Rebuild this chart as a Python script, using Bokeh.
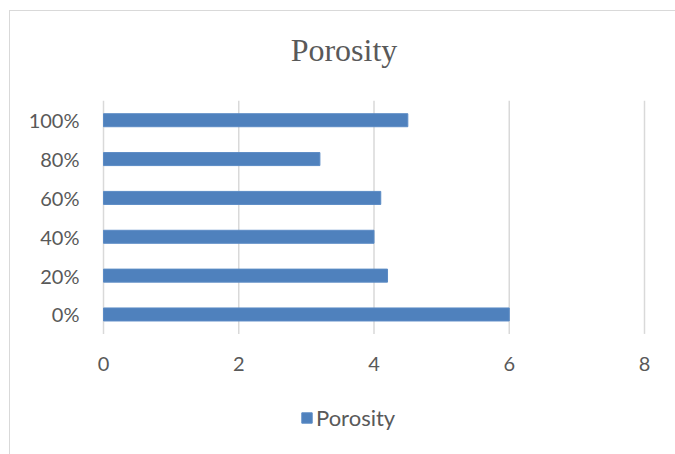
from bokeh.plotting import figure
from bokeh.models import Range1d, Legend, LegendItem, ColumnDataSource, FixedTicker
from bokeh.core.properties import value
from bokeh.embed import file_html
from bokeh.resources import INLINE

categories = ["0%", "20%", "40%", "60%", "80%", "100%"]
porosity = [6.0, 4.2, 4.0, 4.1, 3.2, 4.5]
x_ticks = [0, 2, 4, 6, 8]
series_name = "Porosity"
title_text = "Porosity"

# layout (canvas pixels)
W, H = 666, 444
LEFT, RIGHT = 80, 0
AXIS_X0, AXIS_X1 = 93, 634          # where the value axis 0 and 8 sit
BAND_TOP, BAND_BOTTOM = 89.3, 322.4

n = len(categories)
idx = list(range(n))
band = (BAND_BOTTOM - BAND_TOP) / n
y_lo = -0.5 - (H - BAND_BOTTOM) / band
y_hi = n - 0.5 + BAND_TOP / band
ppu = (AXIS_X1 - AXIS_X0) / (x_ticks[-1] - x_ticks[0])
x_lo = x_ticks[0] - (AXIS_X0 - LEFT) / ppu
x_hi = x_ticks[-1] + (W - RIGHT - AXIS_X1) / ppu

src = ColumnDataSource(dict(y=idx, val=porosity))

p = figure(width=W, height=H, output_backend="svg", toolbar_location=None,
           title_location=None, x_axis_location=None,
           x_range=Range1d(x_lo, x_hi), y_range=Range1d(y_lo, y_hi),
           min_border_left=LEFT, min_border_right=RIGHT, min_border_top=0, min_border_bottom=0,
           margin=(10, 0, 0, 9),
           styles={"border-left": "1px solid #D9D9D9", "border-top": "1px solid #D9D9D9"})
p.outline_line_color = None
p.background_fill_color = "white"
p.border_fill_color = "white"
p.xgrid.grid_line_color = None
p.ygrid.grid_line_color = None

# vertical gridlines limited to the category band
p.segment(x0=x_ticks, x1=x_ticks, y0=[-0.5] * len(x_ticks), y1=[n - 0.5] * len(x_ticks),
          line_color="#D9D9D9", line_width=1.5)

r = p.hbar(y="y", right="val", left=0, height=0.335, source=src,
           fill_color="#4F81BD", line_color="#5B8BC5", line_width=1)

# x tick labels
p.text(x=x_ticks, y=[-0.5] * len(x_ticks), text=[str(t) for t in x_ticks],
       text_font=value("Lato"), text_font_size="20px", text_color="#595959",
       text_align="center", text_baseline="alphabetic", y_offset=30)

# title
p.text(x=[(x_ticks[0] + x_ticks[-1]) / 2], y=[n - 0.5], text=[title_text],
       text_font=value("Liberation Serif"), text_font_size="32px", text_color="#595959",
       text_align="center", text_baseline="alphabetic", x_offset=-30, y_offset=-51)

# y axis (category labels)
ya = p.yaxis[0]
ya.ticker = FixedTicker(ticks=idx)
ya.major_label_overrides = {i: c for i, c in zip(idx, categories)}
ya.axis_line_color = None
ya.major_tick_line_color = None
ya.minor_tick_line_color = None
ya.major_label_text_font = "Lato"
ya.major_label_text_font_size = "20px"
ya.major_label_text_color = "#595959"
ya.major_label_standoff = 5

legend = Legend(items=[LegendItem(label=series_name, renderers=[r])],
                location=(210, 24), orientation="horizontal",
                glyph_width=13, glyph_height=13, label_standoff=3,
                label_text_font="Lato", label_text_font_size="22px", label_text_color="#595959",
                padding=0, margin=0, border_line_color=None, background_fill_alpha=0)
p.add_layout(legend, "center")

open("out.html", "w").write(file_html(p, INLINE))
